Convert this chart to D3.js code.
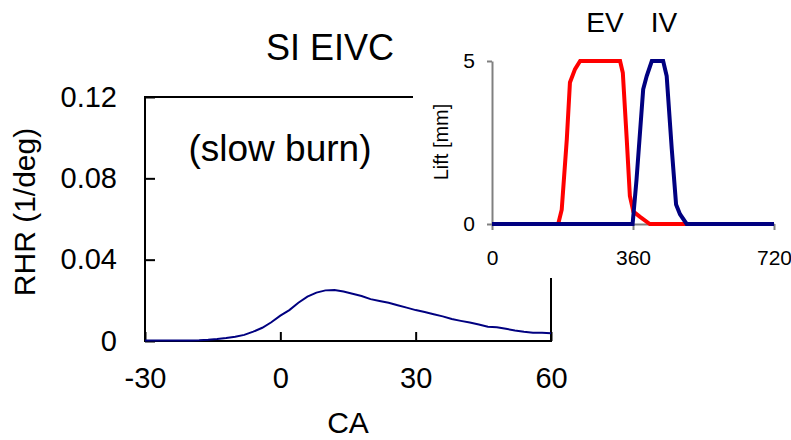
<!DOCTYPE html>
<html>
<head>
<meta charset="utf-8">
<script src="https://cdn.jsdelivr.net/npm/d3@7"></script>
<style>
  body { margin: 0; background: #fff; }
  text { font-family: "Liberation Sans", Arial, sans-serif; }
</style>
</head>
<body>
<div id="chart"></div>
<script>
// main chart: rate of heat release vs crank angle
const ca = [-30, -28, -26, -24, -22, -20, -18, -16, -14, -12, -10, -8, -6, -4, -2,
  0, 2, 4, 6, 8, 10, 12, 14, 16, 18, 20, 22, 24, 26, 28, 30,
  32, 34, 36, 38, 40, 42, 44, 46, 48, 50, 52, 54, 56, 58, 60];
const rhr = [.0002, .0002, .0002, .0002, .0003, .0003, .0004, .0006, .001, .0015, .0021, .003, .0046, .0065, .0092,
  .0125, .0152, .0188, .0218, .0238, .0249, .0251, .0243, .0232, .0221, .0206, .0197, .0188, .0176, .0164, .0152,
  .0143, .0132, .0121, .0108, .0099, .0091, .0081, .0070, .0068, .0060, .0052, .0046, .0041, .0040, .0038];
const caTicks = [-30, 0, 30, 60];
const rhrTicks = [0, 0.04, 0.08, 0.12];
const rhrTickLabels = ["0", "0.04", "0.08", "0.12"];

// inset: valve lift vs crank degree
const evDeg  = [0, 169, 178, 191, 199, 212, 225, 327, 334, 344, 352, 361, 378, 403, 720];
const evLift = [0, 0, 0.44, 2.6, 4.34, 4.75, 5, 5, 4.64, 2.6, 0.86, 0.38, 0.22, 0, 0];
const ivDeg  = [0, 359, 369, 386, 395, 408, 437, 446, 459, 470, 480, 497, 720];
const ivLift = [0, 0, 1.36, 4.13, 4.54, 5, 5, 4.54, 2.3, 0.6, 0.3, 0, 0];
const degTicks = [0, 360, 720];
const liftTicks = [0, 5];

const width = 791, height = 440;

const svg = d3.select("#chart").append("svg")
  .attr("width", width)
  .attr("height", height);

const x = d3.scaleLinear().domain([-30, 60]).range([145, 551]);
const y = d3.scaleLinear().domain([0, 0.12]).range([341, 97]);

// frame
svg.append("rect")
  .attr("x", x(-30)).attr("y", y(0.12))
  .attr("width", x(60) - x(-30)).attr("height", y(0) - y(0.12))
  .attr("fill", "none").attr("stroke", "#000").attr("stroke-width", 2);

svg.append("g")
  .attr("transform", `translate(${x(-30)},0)`)
  .call(d3.axisLeft(y).tickValues(rhrTicks).tickSize(-10).tickPadding(28)
    .tickFormat((d, i) => rhrTickLabels[i]))
  .call(g => g.select(".domain").remove())
  .call(g => g.selectAll("line").attr("stroke", "#000").attr("stroke-width", 2))
  .call(g => g.selectAll("text").attr("font-size", "29px").attr("fill", "#000")
    .style("font-family", "'Liberation Sans', Arial, sans-serif"));

svg.append("g")
  .attr("transform", `translate(0,${y(0)})`)
  .call(d3.axisBottom(x).tickValues(caTicks).tickSize(-9).tickPadding(26)
    .tickFormat(d => String(d)))
  .call(g => g.select(".domain").remove())
  .call(g => g.selectAll("line").attr("stroke", "#000").attr("stroke-width", 2))
  .call(g => g.selectAll("text").attr("font-size", "29px").attr("fill", "#000")
    .style("font-family", "'Liberation Sans', Arial, sans-serif"));

svg.append("path")
  .datum(ca.map((c, i) => [c, rhr[i]]))
  .attr("fill", "none")
  .attr("stroke", "#000080")
  .attr("stroke-width", 2)
  .attr("d", d3.line().x(d => x(d[0])).y(d => y(d[1])));

svg.append("text")
  .attr("x", 348).attr("y", 433)
  .attr("text-anchor", "middle")
  .attr("font-size", "30px")
  .text("CA");

svg.append("text")
  .attr("transform", "translate(35,212) rotate(-90)")
  .attr("text-anchor", "middle")
  .attr("font-size", "30px")
  .text("RHR (1/deg)");

svg.append("text")
  .attr("x", 330).attr("y", 60)
  .attr("text-anchor", "middle")
  .attr("font-size", "36px")
  .text("SI EIVC");

svg.append("text")
  .attr("x", 280).attr("y", 161)
  .attr("text-anchor", "middle")
  .attr("font-size", "37px")
  .text("(slow burn)");

// inset panel
const inset = svg.append("g");
inset.append("rect")
  .attr("x", 413).attr("y", 0)
  .attr("width", width - 413).attr("height", 278)
  .attr("fill", "#fff");

const xi = d3.scaleLinear().domain([0, 720]).range([492, 774]);
const yi = d3.scaleLinear().domain([0, 5]).range([224, 61]);

inset.append("g")
  .attr("transform", `translate(${xi(0)},0)`)
  .call(d3.axisLeft(yi).tickValues(liftTicks).tickSize(5).tickSizeOuter(0).tickPadding(12)
    .tickFormat(d => String(d)))
  .call(g => g.selectAll("line, .domain").attr("stroke", "#808080").attr("stroke-width", 2))
  .call(g => g.selectAll("text").attr("font-size", "21px").attr("fill", "#000")
    .style("font-family", "'Liberation Sans', Arial, sans-serif"));

inset.append("g")
  .attr("transform", `translate(0,${yi(0)})`)
  .call(d3.axisBottom(xi).tickValues(degTicks).tickSize(6).tickSizeOuter(0).tickPadding(20)
    .tickFormat(d => String(d)))
  .call(g => g.selectAll("line, .domain").attr("stroke", "#808080").attr("stroke-width", 2))
  .call(g => g.selectAll("text").attr("font-size", "21px").attr("fill", "#000")
    .style("font-family", "'Liberation Sans', Arial, sans-serif"));

const liftLine = d3.line().x(d => xi(d[0])).y(d => yi(d[1]));

inset.append("path")
  .datum(evDeg.map((d, i) => [d, evLift[i]]))
  .attr("fill", "none").attr("stroke", "#ff0000").attr("stroke-width", 4)
  .attr("d", liftLine);

inset.append("path")
  .datum(ivDeg.map((d, i) => [d, ivLift[i]]))
  .attr("fill", "none").attr("stroke", "#000080").attr("stroke-width", 4)
  .attr("d", liftLine);

inset.append("text")
  .attr("transform", "translate(448,142) rotate(-90)")
  .attr("text-anchor", "middle")
  .attr("font-size", "20px")
  .text("Lift [mm]");

inset.append("text")
  .attr("x", 605).attr("y", 32)
  .attr("text-anchor", "middle")
  .attr("font-size", "28px")
  .text("EV");

inset.append("text")
  .attr("x", 664).attr("y", 32)
  .attr("text-anchor", "middle")
  .attr("font-size", "28px")
  .text("IV");
</script>
</body>
</html>
